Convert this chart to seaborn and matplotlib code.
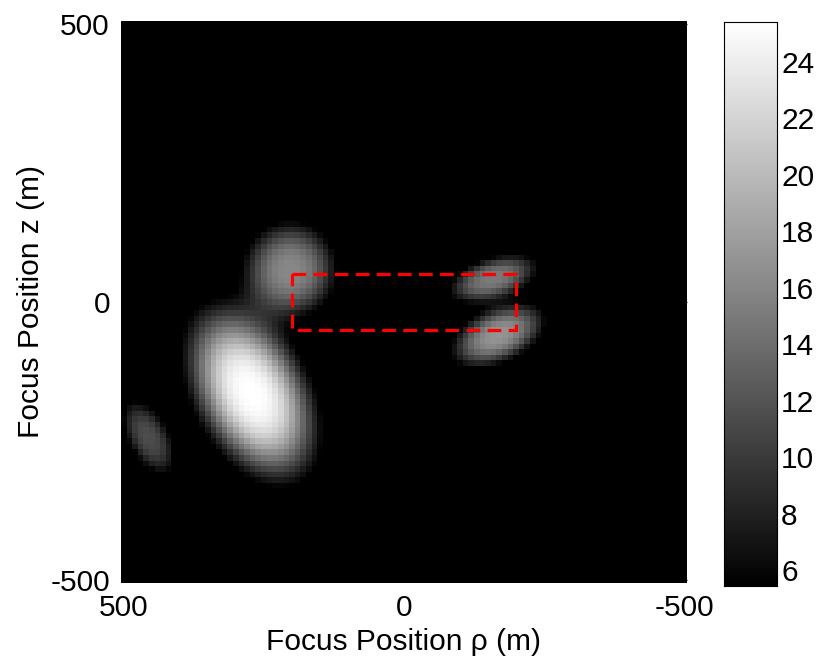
import numpy as np
import pandas as pd
import matplotlib
matplotlib.use("Agg")
import matplotlib.pyplot as plt
from matplotlib.patches import Rectangle
import seaborn as sns

# focus grid (m)
rho = np.arange(500, -501, -10)
z = np.arange(500, -501, -10)

# bright spots: centre, peak, spread along/across, tilt (deg)
blob_rho = [272, 203, 456, -159, -168]
blob_z = [-164, 58, -243, 42, -60]
blob_peak = [25.4, 16.0, 11.4, 15.0, 17.0]
blob_major = [122, 66, 62, 64, 68]
blob_minor = [72, 64, 31, 29, 37]
blob_angle = [63, 90, 62, 162, 155]
blob_shape = 1.4   # flat-topped spots

# suspected target area
box_rho = [-200, 200]
box_z = [-50, 50]

vmin, vmax = 5.45, 25.4
cbar_ticks = list(range(6, 25, 2))


def spotMap(rho, z):
    R, Z = np.meshgrid(rho, z)
    out = np.zeros_like(R, dtype=float)
    for r0, z0, p, a, b, ang in zip(blob_rho, blob_z, blob_peak, blob_major, blob_minor, blob_angle):
        t = np.deg2rad(ang)
        u = (R - r0) * np.cos(t) + (Z - z0) * np.sin(t)
        v = -(R - r0) * np.sin(t) + (Z - z0) * np.cos(t)
        out += p * np.exp(-0.5 * ((u / a) ** 2 + (v / b) ** 2) ** blob_shape)
    return out


def colPos(r):
    return (rho[0] - r) / 10 + 0.5


def rowPos(zz):
    return (z[0] - zz) / 10 + 0.5


df = pd.DataFrame(spotMap(rho, z), index=z, columns=rho)

sns.set_style("white")
plt.rcParams['font.family'] = ['Liberation Sans', 'DejaVu Sans']
plt.rcParams['font.size'] = 21.5
plt.rcParams['text.color'] = 'black'
plt.rcParams['axes.labelcolor'] = 'black'
plt.rcParams['xtick.color'] = 'black'
plt.rcParams['ytick.color'] = 'black'

W, H = 819, 665
fig = plt.figure(figsize=(W / 100, H / 100), dpi=100)
ax = fig.add_axes([121 / W, (H - 583) / H, (687 - 121) / W, (583 - 21) / H])
cax = fig.add_axes([724 / W, (H - 586) / H, (777 - 724) / W, (586 - 22) / H])

sns.heatmap(df, ax=ax, cmap="gray", vmin=vmin, vmax=vmax, cbar_ax=cax,
            xticklabels=False, yticklabels=False)

ax.set_xticks([colPos(500), colPos(0), colPos(-500)])
ax.set_xticklabels(['500', '0', '-500'])
ax.set_yticks([rowPos(500), rowPos(0), rowPos(-500)])
ax.set_yticklabels(['500', '0', '-500'])
ax.tick_params(direction='in', length=5, top=True, right=True, colors='black',
               labelcolor='black', labelsize=21.5, pad=8, labelrotation=0)
ax.set_xlabel('Focus Position \u03c1 (m)', fontsize=21.5, labelpad=4, color='black')
ax.set_ylabel('Focus Position z (m)', fontsize=21.5, labelpad=4, color='black')

x0, x1 = colPos(box_rho[1]), colPos(box_rho[0])
y0, y1 = rowPos(box_z[1]), rowPos(box_z[0])
ax.add_patch(Rectangle((x0, y0), x1 - x0, y1 - y0, fill=False, edgecolor='red',
                       linewidth=2.3, linestyle=(0, (4.3, 2.3))))

cax.set_yticks(cbar_ticks)
cax.set_yticklabels([str(t) for t in cbar_ticks])
cax.tick_params(direction='in', length=5, left=True, right=True, colors='black',
                labelcolor='black', labelsize=21.5, pad=3)
for s in cax.spines.values():
    s.set_visible(True)
    s.set_color('black')

fig.savefig('out.png', dpi=100)
